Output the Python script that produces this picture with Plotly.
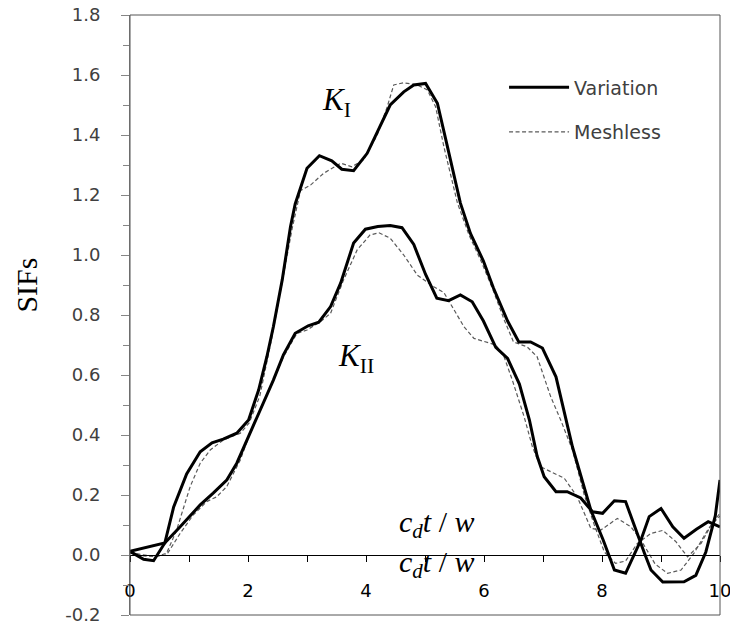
import plotly.graph_objects as go

# ---- data ----
ki_var_t = [0.0, 0.23, 0.40, 0.59, 0.74, 0.96, 1.19, 1.39, 1.58, 1.81, 2.01, 2.18, 2.32, 2.43, 2.58,
            2.72, 2.80, 3.00, 3.21, 3.42, 3.59, 3.79, 4.02, 4.24, 4.41, 4.64, 4.81, 5.01, 5.21, 5.38,
            5.60, 5.77, 5.99, 6.16, 6.40, 6.59, 6.79, 6.99, 7.22, 7.50, 7.81, 8.02, 8.21, 8.40, 8.66,
            8.80, 9.00, 9.20, 9.39, 9.60, 9.80, 10.0]
ki_var = [0.012, -0.014, -0.019, 0.04, 0.16, 0.27, 0.344, 0.374, 0.386, 0.406, 0.45, 0.55, 0.661, 0.761, 0.917,
          1.094, 1.17, 1.289, 1.331, 1.314, 1.286, 1.281, 1.339, 1.433, 1.50, 1.544, 1.567, 1.572, 1.506, 1.361,
          1.173, 1.072, 0.98, 0.89, 0.78, 0.71, 0.71, 0.69, 0.594, 0.36, 0.15, 0.05, -0.05, -0.061, 0.05,
          0.128, 0.155, 0.094, 0.056, 0.086, 0.111, 0.094]

kii_var_t = [0.0, 0.59, 0.85, 1.19, 1.41, 1.64, 1.81, 1.98, 2.21, 2.43, 2.60, 2.80, 3.02, 3.20, 3.40,
             3.57, 3.79, 3.99, 4.20, 4.41, 4.61, 4.81, 5.01, 5.20, 5.40, 5.60, 5.80, 5.99, 6.20, 6.40,
             6.60, 6.77, 6.90, 7.02, 7.22, 7.41, 7.64, 7.84, 8.01, 8.21, 8.40, 8.55, 8.72, 8.83, 9.03,
             9.39, 9.59, 9.76, 9.92, 10.0]
kii_var = [0.012, 0.04, 0.094, 0.167, 0.206, 0.25, 0.306, 0.383, 0.483, 0.583, 0.667, 0.739, 0.764, 0.776, 0.828,
           0.906, 1.04, 1.086, 1.095, 1.098, 1.091, 1.035, 0.935, 0.856, 0.848, 0.867, 0.844, 0.78, 0.692, 0.655,
           0.57, 0.45, 0.33, 0.261, 0.211, 0.211, 0.19, 0.144, 0.139, 0.181, 0.178, 0.094, 0.006, -0.05, -0.09,
           -0.089, -0.068, 0.01, 0.13, 0.25]

ki_mesh_t = [0.0, 0.23, 0.45, 0.62, 0.79, 1.02, 1.19, 1.36, 1.58, 1.87, 2.02, 2.20, 2.40, 2.60, 2.75,
             2.89, 3.06, 3.28, 3.57, 3.76, 3.96, 4.19, 4.36, 4.47, 4.64, 4.87, 5.04, 5.18, 5.32, 5.55,
             5.75, 5.95, 6.15, 6.35, 6.50, 6.73, 6.90, 7.13, 7.30, 7.50, 7.70, 7.87, 8.04, 8.23, 8.40,
             8.60, 8.83, 9.03, 9.25, 9.45, 9.68, 9.85, 10.0]
ki_mesh = [0.008, -0.003, -0.005, 0.006, 0.083, 0.228, 0.306, 0.35, 0.383, 0.406, 0.44, 0.53, 0.72, 0.93, 1.09,
           1.215, 1.233, 1.272, 1.306, 1.294, 1.317, 1.40, 1.494, 1.567, 1.574, 1.567, 1.55, 1.494, 1.361, 1.173,
           1.065, 0.98, 0.885, 0.78, 0.71, 0.694, 0.661, 0.528, 0.45, 0.35, 0.20, 0.10, 0.01, -0.028, -0.02,
           0.039, 0.072, 0.082, 0.045, -0.006, 0.039, 0.10, 0.13]

kii_mesh_t = [0.0, 0.23, 0.40, 0.62, 0.85, 1.07, 1.30, 1.47, 1.64, 1.87, 2.06, 2.40, 2.60, 2.83, 3.00,
              3.23, 3.40, 3.62, 3.85, 4.07, 4.22, 4.41, 4.64, 4.87, 5.15, 5.32, 5.49, 5.66, 5.83, 6.05,
              6.20, 6.34, 6.48, 6.68, 6.82, 6.96, 7.13, 7.36, 7.58, 7.81, 7.98, 8.26, 8.49, 8.66, 8.90,
              9.11, 9.34, 9.56, 9.79, 10.0]
kii_mesh = [0.008, 0.0, -0.005, 0.0, 0.072, 0.133, 0.178, 0.194, 0.228, 0.317, 0.42, 0.57, 0.66, 0.739, 0.75,
            0.778, 0.806, 0.917, 1.017, 1.067, 1.074, 1.056, 1.00, 0.933, 0.894, 0.875, 0.817, 0.761, 0.722, 0.708,
            0.70, 0.661, 0.583, 0.461, 0.361, 0.294, 0.278, 0.256, 0.194, 0.089, 0.083, 0.122, 0.094, 0.05, -0.03,
            -0.061, -0.05, 0.006, 0.083, 0.14]

y_ticks = [-0.2, 0.0, 0.2, 0.4, 0.6, 0.8, 1.0, 1.2, 1.4, 1.6, 1.8]
y_tick_text = ["-0.2", "0.0", "0.2", "0.4", "0.6", "0.8", "1.0", "1.2", "1.4", "1.6", "1.8"]
x_ticks = [0, 2, 4, 6, 8, 10]

SANS = "DejaVu Sans"
SERIF = "Liberation Serif"
GRAY = "#404040"

fig = go.Figure()

mesh_line = dict(color="#5a5a5a", width=1.2, dash="4px,2.5px")
var_line = dict(color="black", width=3)

fig.add_trace(go.Scatter(x=ki_mesh_t, y=ki_mesh, mode="lines", name="Meshless", line=mesh_line,
                         legendgroup="m", legendrank=2, showlegend=True))
fig.add_trace(go.Scatter(x=kii_mesh_t, y=kii_mesh, mode="lines", name="Meshless", line=mesh_line,
                         legendgroup="m", legendrank=2, showlegend=False))
fig.add_trace(go.Scatter(x=ki_var_t, y=ki_var, mode="lines", name="Variation", line=var_line,
                         legendgroup="v", legendrank=1, showlegend=True))
fig.add_trace(go.Scatter(x=kii_var_t, y=kii_var, mode="lines", name="Variation", line=var_line,
                         legendgroup="v", legendrank=1, showlegend=False))

fig.update_layout(
    width=730, height=629,
    margin=dict(l=130, r=10, t=15, b=14, autoexpand=False),
    paper_bgcolor="white", plot_bgcolor="white",
    showlegend=True,
    legend=dict(x=0.634, y=0.911, xanchor="left", yanchor="top",
                font=dict(family=SANS, size=19, color=GRAY),
                traceorder="grouped", tracegroupgap=17, itemwidth=60,
                bgcolor="rgba(0,0,0,0)"),
    xaxis=dict(range=[0, 10], anchor="free", position=0.1, tickvals=x_ticks, automargin=False,
               ticks="outside", ticklen=6, tickcolor="black", showline=True, linecolor="black",
               linewidth=1, showgrid=False, zeroline=False, ticklabeloverflow="allow",
               minor=dict(dtick=1, ticks="outside", ticklen=6, tickcolor="black"),
               tickfont=dict(family=SANS, size=18, color="black"), ticklabelstandoff=13),
    yaxis=dict(range=[-0.2, 1.8], tickvals=y_ticks, ticktext=y_tick_text, automargin=False,
               ticks="outside", ticklen=8, tickcolor="#868686", showline=True, linecolor="#868686",
               linewidth=1, showgrid=False, zeroline=False,
               minor=dict(dtick=0.1, ticks="outside", ticklen=6, tickcolor="#868686"),
               tickfont=dict(family=SANS, size=18, color=GRAY), ticklabelstandoff=17),
)

fig.add_shape(type="rect", xref="paper", yref="paper", x0=0, y0=0, x1=1, y1=1,
              line=dict(color="#555555", width=1), layer="above")

# axis title and labels
fig.add_annotation(text="SIFs", xref="paper", yref="paper", x=-0.177, y=0.55, textangle=-90,
                   xanchor="center", yanchor="middle",
                   showarrow=False, font=dict(family=SERIF, size=30, color="black"))
fig.add_annotation(text="<i>K</i><sub>I</sub>", x=3.5, y=1.51, showarrow=False,
                   font=dict(family=SERIF, size=31, color="black"))
fig.add_annotation(text="<i>K</i><sub>II</sub>", x=3.83, y=0.657, showarrow=False,
                   font=dict(family=SERIF, size=31, color="black"))
for yy in [0.105, -0.03]:
    fig.add_annotation(text="<i>c<sub>d</sub>t</i> / <i>w</i>", x=5.2, y=yy, showarrow=False,
                       font=dict(family=SERIF, size=30, color="black"))

fig.write_html("out.html")
